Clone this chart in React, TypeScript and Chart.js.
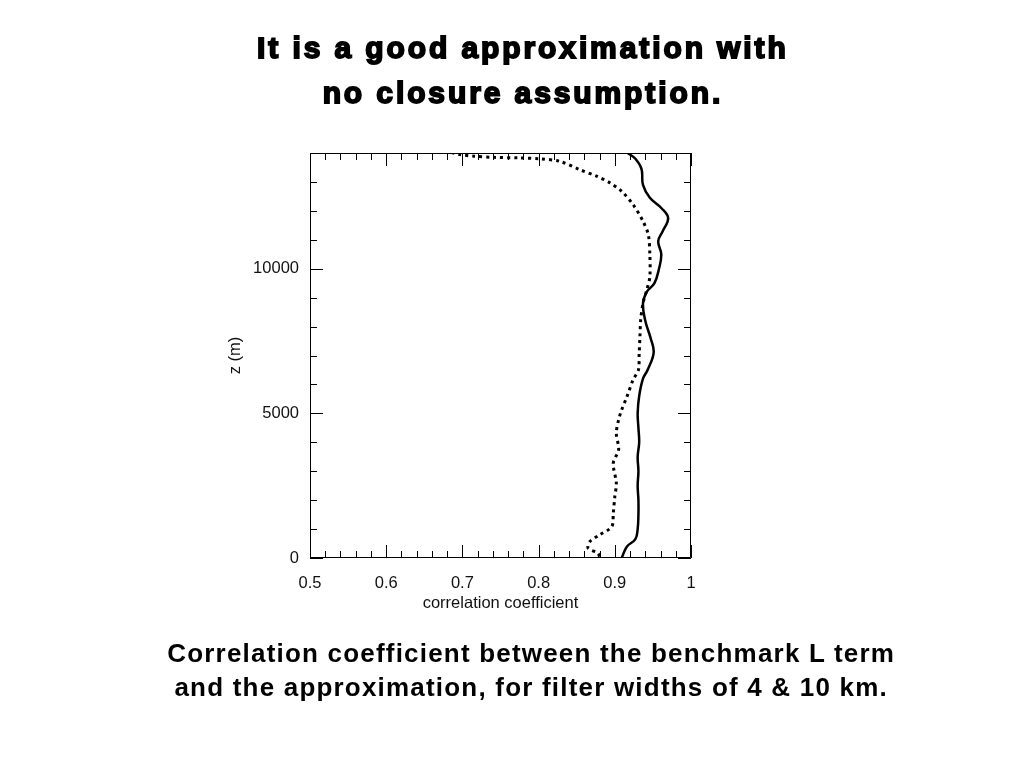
import React, { useEffect, useRef } from "react";
import { Chart, registerables } from "chart.js";

Chart.register(...registerables);

// Solid curve (4 km filter): height z (m) and correlation coefficient
const zSolid = [0, 400, 650, 1000, 1500, 2000, 2500, 3000, 3500, 4000, 4500, 5000, 5600, 6200, 6500, 7100, 7600, 8200, 8800, 9200, 9500, 10000, 10500, 10950, 11300, 11750, 12100, 12450, 12900, 13450, 13800, 14000];
const rSolid = [0.909, 0.916, 0.927, 0.930, 0.931, 0.931, 0.930, 0.931, 0.930, 0.932, 0.931, 0.930, 0.932, 0.937, 0.943, 0.951, 0.947, 0.940, 0.937, 0.942, 0.952, 0.958, 0.961, 0.957, 0.963, 0.970, 0.961, 0.946, 0.937, 0.935, 0.927, 0.917];

// Dotted curve (10 km filter)
const zDotted = [50, 160, 340, 560, 800, 1080, 1545, 2120, 2585, 3280, 3740, 4315, 4775, 5120, 5580, 6160, 6500, 7080, 7660, 8235, 8810, 9270, 9730, 10485, 11175, 11640, 12215, 12675, 12965, 13200, 13425, 13710, 13800, 13830, 13850, 13890, 13945, 14030];
const rDotted = [0.880, 0.878, 0.865, 0.867, 0.880, 0.896, 0.898, 0.900, 0.902, 0.898, 0.905, 0.902, 0.905, 0.909, 0.916, 0.924, 0.931, 0.932, 0.933, 0.934, 0.937, 0.942, 0.946, 0.946, 0.944, 0.937, 0.924, 0.909, 0.894, 0.876, 0.854, 0.828, 0.802, 0.776, 0.741, 0.715, 0.697, 0.684];

const xMin = 0.5;
const xMax = 1;
const xStep = 0.02;
const yMin = 0;
const yMax = 14000;
const yStep = 1000;
const yLabelEvery = 5000;

const titleLines = ["It is a good approximation with", "no closure assumption."];
const captionLines = [
  "Correlation coefficient between the benchmark L term",
  "and the approximation, for filter widths of 4 & 10 km.",
];
const xTitle = "correlation coefficient";
const yTitle = "z (m)";

const FONT = "'Liberation Sans', Arial, Helvetica, sans-serif";

const isTenth = (v: number) => Math.abs(v * 10 - Math.round(v * 10)) < 1e-6;

const boxTicksPlugin = {
  id: "boxTicks",
  afterDatasetsDraw(chart: any) {
    const { ctx, chartArea, scales } = chart;
    const { left, right, top, bottom } = chartArea;
    ctx.save();
    ctx.strokeStyle = "#000";
    ctx.lineWidth = 1;
    ctx.beginPath();
    ctx.rect(left + 0.5, top + 0.5, right - left - 1, bottom - top - 1);
    ctx.stroke();
    const xs = scales.x;
    xs.ticks.forEach((t: any) => {
      const px = Math.round(xs.getPixelForValue(t.value)) + 0.5;
      const len = isTenth(t.value) ? 13 : 7;
      ctx.beginPath();
      ctx.moveTo(px, bottom);
      ctx.lineTo(px, bottom - len);
      ctx.moveTo(px, top);
      ctx.lineTo(px, top + len);
      ctx.stroke();
    });
    const ys = scales.y;
    ys.ticks.forEach((t: any) => {
      const py = Math.round(ys.getPixelForValue(t.value)) + 0.5;
      const len = t.value % yLabelEvery === 0 ? 13 : 7;
      ctx.beginPath();
      ctx.moveTo(left, py);
      ctx.lineTo(left + len, py);
      ctx.moveTo(right, py);
      ctx.lineTo(right - len, py);
      ctx.stroke();
    });
    ctx.restore();
  },
};

export default function App() {
  const ref = useRef<HTMLCanvasElement | null>(null);

  useEffect(() => {
    if (!ref.current) return;
    const solid = zSolid.map((z, i) => ({ x: rSolid[i], y: z }));
    const dotted = zDotted.map((z, i) => ({ x: rDotted[i], y: z }));
    const chart = new Chart(ref.current, {
      type: "scatter",
      data: {
        datasets: [
          {
            data: solid,
            showLine: true,
            borderColor: "#000",
            borderWidth: 2.5,
            pointRadius: 0,
            tension: 0.4,
            fill: false,
          },
          {
            data: dotted,
            showLine: true,
            borderColor: "#000",
            borderWidth: 3,
            borderDash: [3, 4],
            borderCapStyle: "butt",
            pointRadius: 0,
            tension: 0.3,
            fill: false,
          },
        ],
      },
      options: {
        responsive: false,
        animation: false,
        devicePixelRatio: 1,
        layout: { padding: { left: 220, right: 333, top: 153, bottom: 155 } },
        plugins: { legend: { display: false }, tooltip: { enabled: false } },
        scales: {
          x: {
            type: "linear",
            min: xMin,
            max: xMax,
            grid: { display: false, drawTicks: false },
            border: { display: false },
            ticks: {
              stepSize: xStep,
              autoSkip: false,
              maxRotation: 0,
              minRotation: 0,
              padding: 16,
              color: "#111",
              font: { family: FONT, size: 16.5 },
              callback: (v: any) => (isTenth(Number(v)) ? String(Math.round(Number(v) * 10) / 10) : ""),
            },
            title: {
              display: true,
              text: xTitle,
              color: "#111",
              font: { family: FONT, size: 16.5 },
              padding: { top: 0, bottom: 0 },
            },
            afterFit: (s: any) => {
              s.height = 55;
            },
          },
          y: {
            type: "linear",
            min: yMin,
            max: yMax,
            grid: { display: false, drawTicks: false },
            border: { display: false },
            ticks: {
              stepSize: yStep,
              autoSkip: false,
              padding: 11,
              color: "#111",
              font: { family: FONT, size: 16.5 },
              callback: (v: any) => (Number(v) % yLabelEvery === 0 ? String(v) : ""),
            },
            title: {
              display: true,
              text: yTitle,
              color: "#111",
              font: { family: FONT, size: 16.5 },
              padding: { top: 6, bottom: 0 },
            },
            afterFit: (s: any) => {
              s.width = 90;
            },
          },
        },
      },
      plugins: [boxTicksPlugin],
    });
    return () => chart.destroy();
  }, []);

  const titleStyle: React.CSSProperties = {
    position: "absolute",
    left: 20,
    width: 1000,
    top: 25,
    textAlign: "center",
    fontFamily: FONT,
    fontWeight: "bold",
    fontSize: 30,
    lineHeight: "45px",
    letterSpacing: "2.9px",
    paddingLeft: "2.9px",
    WebkitTextStroke: "1.8px #000",
    color: "#000",
    whiteSpace: "nowrap",
  };
  const captionStyle: React.CSSProperties = {
    position: "absolute",
    left: 30,
    width: 1000,
    top: 636,
    textAlign: "center",
    fontFamily: FONT,
    fontWeight: "bold",
    fontSize: 26,
    lineHeight: "34px",
    letterSpacing: "1.2px",
    paddingLeft: "1.2px",
    color: "#000",
    whiteSpace: "nowrap",
  };

  return (
    <div style={{ position: "absolute", left: 0, top: 0, width: 1024, height: 768, background: "#fff", overflow: "hidden" }}>
      <canvas ref={ref} width={1024} height={768} style={{ position: "absolute", left: 0, top: 0, width: 1024, height: 768 }} />
      <div style={titleStyle}>
        {titleLines.map((l, i) => (
          <div key={i}>{l}</div>
        ))}
      </div>
      <div style={captionStyle}>
        {captionLines.map((l, i) => (
          <div key={i}>{l}</div>
        ))}
      </div>
    </div>
  );
}
